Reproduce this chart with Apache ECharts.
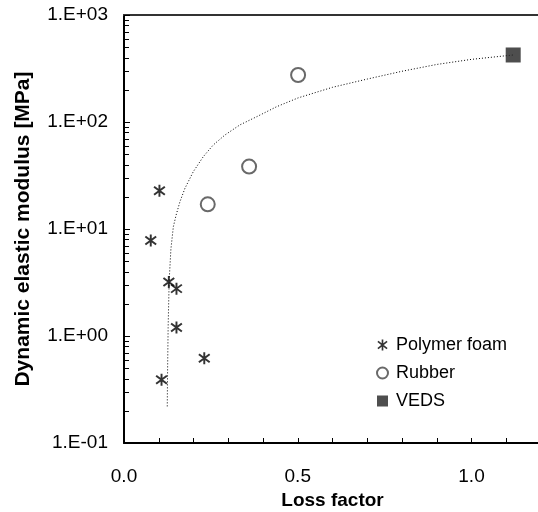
<!DOCTYPE html>
<html>
<head>
<meta charset="utf-8">
<script src="https://cdn.jsdelivr.net/npm/echarts@6/dist/echarts.min.js"></script>
<style>
  html, body { margin: 0; padding: 0; background: #fff; }
  #chart { width: 538px; height: 512px; }
</style>
</head>
<body>
<div id="chart"></div>
<script>
// values
const foamLoss = [0.077, 0.102, 0.108, 0.129, 0.151, 0.151, 0.231]
const foamModulus = [7.8, 22.8, 0.39, 3.2, 2.77, 1.2, 0.62]

const rubberLoss = [0.241, 0.36, 0.501]
const rubberModulus = [17, 38.3, 275]

const vedsLoss = [1.12]
const vedsModulus = [423]

// dotted trend curve, sampled along the drawn line
const trendLoss = [0.1245, 0.1255, 0.127, 0.130, 0.135, 0.142, 0.150, 0.161, 0.1754, 0.1993, 0.2281, 0.2568, 0.2905, 0.3336, 0.3817, 0.4392, 0.501, 0.6, 0.7, 0.8, 0.9, 1.0, 1.12]
const trendModulus = [0.22, 0.5, 1.2, 3.3, 6.5, 10.5, 13.5, 18, 24, 34.3, 47.4, 61, 75.6, 94, 112, 139, 168, 211, 252, 298, 345, 385, 423]

// minor ticks of the log axis (2..9 in each decade)
const decades = [0.1, 1, 10, 100]
const minorMultipliers = [2, 3, 4, 5, 6, 7, 8, 9]

const FONT = 'Liberation Sans, Arial, sans-serif'

const zip = (xs, ys) => xs.map((x, i) => [x, ys[i]])

const asterisk = 'path://M5.1 0L6.9 0L6.9 12L5.1 12Z' +
  'M1.56 1.3L11.56 9.3L10.44 10.7L0.44 2.7Z' +
  'M0.44 9.3L10.44 1.3L11.56 2.7L1.56 10.7Z'

const minorTicks = []
decades.forEach(d => minorMultipliers.forEach(m => minorTicks.push([0, +(d * m).toPrecision(3)])))

const expLabel = (v) => {
  const e = Math.round(Math.log10(v))
  const s = e < 0 ? '-' : '+'
  return '1.E' + s + String(Math.abs(e)).padStart(2, '0')
}

const chart = echarts.init(document.getElementById('chart'), null, { renderer: 'canvas' })

chart.setOption({
  animation: false,
  backgroundColor: '#fff',
  textStyle: { fontFamily: FONT },
  grid: { left: 124, right: -3, top: 15, bottom: 69, containLabel: false, outerBoundsMode: 'none' },
  legend: {
    orient: 'vertical',
    left: 371,
    top: 330,
    itemWidth: 11,
    itemHeight: 11,
    itemGap: 8,
    data: ['Polymer foam', 'Rubber', 'VEDS'],
    textStyle: { fontFamily: FONT, fontSize: 18, color: '#000', lineHeight: 20, padding: [0, 0, 0, 3] }
  },
  xAxis: [{
    type: 'value',
    min: 0,
    max: 1.2,
    interval: 0.1,
    name: 'Loss factor',
    nameLocation: 'middle',
    nameGap: 47,
    nameTextStyle: { fontFamily: FONT, fontSize: 19, fontWeight: 'bold', color: '#000' },
    axisLine: { lineStyle: { color: '#000', width: 2 } },
    axisTick: { inside: true, length: 5, lineStyle: { color: '#000', width: 1 } },
    axisLabel: {
      margin: 24,
      fontFamily: FONT,
      fontSize: 19,
      color: '#000',
      formatter: v => Math.abs(v * 2 - Math.round(v * 2)) < 1e-6 ? v.toFixed(1) : ''
    },
    splitLine: { show: false }
  }, {
    type: 'value',
    position: 'top',
    min: 0,
    max: 1.2,
    axisLine: { show: true, onZero: false, lineStyle: { color: '#333', width: 2 } },
    axisTick: { show: false },
    axisLabel: { show: false },
    splitLine: { show: false }
  }],
  yAxis: {
    type: 'log',
    logBase: 10,
    min: 0.1,
    max: 1000,
    name: 'Dynamic elastic modulus [MPa]',
    nameLocation: 'middle',
    nameGap: 90,
    nameTextStyle: { fontFamily: FONT, fontSize: 21, fontWeight: 'bold', color: '#000' },
    axisLine: { lineStyle: { color: '#000', width: 2 } },
    axisTick: { inside: true, length: 6, lineStyle: { color: '#000', width: 1 } },
    axisLabel: { margin: 16, fontFamily: FONT, fontSize: 19, color: '#000', formatter: expLabel },
    splitLine: { show: false }
  },
  series: [
    {
      name: 'trend',
      type: 'line',
      data: zip(trendLoss, trendModulus),
      showSymbol: false,
      lineStyle: { color: '#000', width: 1, type: [1, 2] },
      z: 1
    },
    {
      name: 'minor ticks',
      type: 'custom',
      data: minorTicks,
      silent: true,
      clip: false,
      renderItem: (params, api) => {
        const p = api.coord([api.value(0), api.value(1)])
        return {
          type: 'line',
          shape: { x1: p[0], y1: Math.round(p[1]) + 0.5, x2: p[0] + 5, y2: Math.round(p[1]) + 0.5 },
          style: { stroke: '#000', lineWidth: 1 }
        }
      },
      z: 3
    },
    {
      name: 'Polymer foam',
      type: 'scatter',
      data: zip(foamLoss, foamModulus),
      symbol: asterisk,
      symbolSize: [12, 12],
      itemStyle: { color: '#000' },
      z: 4
    },
    {
      name: 'Rubber',
      type: 'scatter',
      data: zip(rubberLoss, rubberModulus),
      symbol: 'emptyCircle',
      symbolSize: 14,
      itemStyle: { color: '#444', borderColor: '#444', borderWidth: 1.5 },
      z: 4
    },
    {
      name: 'VEDS',
      type: 'scatter',
      data: zip(vedsLoss, vedsModulus),
      symbol: 'rect',
      symbolSize: 15,
      itemStyle: { color: '#222' },
      z: 4
    }
  ]
})
</script>
</body>
</html>
